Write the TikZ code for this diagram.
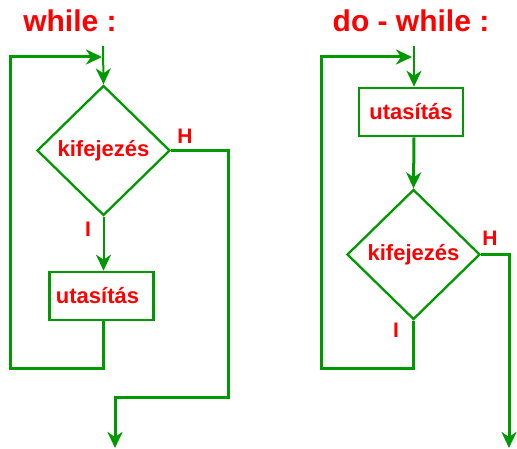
\documentclass[tikz,border=0pt]{standalone}
\usepackage{fontspec}
\setmainfont{Liberation Sans}
\usetikzlibrary{arrows.meta,shapes.geometric}
\definecolor{flowgreen}{RGB}{0,153,0}
\definecolor{flowred}{RGB}{255,0,0}
\tikzset{
  title/.style={text=flowred, font=\fontsize{30}{33}\selectfont\bfseries, anchor=base, inner sep=0},
  label/.style={text=flowred, font=\fontsize{21}{24}\selectfont\bfseries, inner sep=0},
  decision/.style={shape=diamond, draw=flowgreen, line width=2.3pt, minimum width=133pt, minimum height=130pt, inner sep=0, text=flowred, font=\fontsize{22}{25}\selectfont\bfseries},
  stmt/.style={shape=rectangle, draw=flowgreen, line width=2.6pt, minimum width=104pt, minimum height=48pt, inner sep=0, text=flowred, font=\fontsize{22}{25}\selectfont\bfseries},
  tip/.style={-{Stealth[length=16pt,width=15pt,inset=5pt]}},
  heavy/.style={draw=flowgreen, line width=3pt},
  light/.style={draw=flowgreen, line width=2pt},
}
\begin{document}
\begin{tikzpicture}[x=1pt,y=-1pt]
\useasboundingbox (0,0) rectangle (517,449);

% ---- while loop ----
\node[title] (wtitle) at (70,32) {while :};
\coordinate (wtop) at (103,46);
\coordinate (wjoin) at (102,57);
\node[decision] (wd) at (103.5,150.5) {kifejezés};
\node[stmt] (wbox) at (101.5,296) {\hspace*{-8pt}utasítás};
\node[label] (wh) at (185,136) {H};
\node[label] (wi) at (88,229) {I};
\coordinate (wloop) at (10,368);
\coordinate (wturn) at (228,397);
\coordinate (wend) at (115,448);

\draw[light,tip] (wtop) -- (wd.north);
\draw[light,tip] (wd.south) -- (wd.south |- wbox.north);
\draw[heavy,tip,line join=miter] (wd.south |- wbox.south) |- (wloop) |- (wjoin);
\draw[heavy,tip,line join=miter] (wd.east) -| (wturn) -| (wend);

% ---- do-while loop ----
\node[title] (dtitle) at (411,32) {do - while :};
\coordinate (dtop) at (414,46);
\coordinate (djoin) at (412,57);
\node[stmt] (dbox) at (411,112) {utasítás};
\node[decision] (dd) at (413.5,254.5) {kifejezés};
\node[label] (dh) at (490,238) {H};
\node[label] (di) at (396,330) {I};
\coordinate (dloop) at (321,368);
\coordinate (dend) at (509,448);

\draw[light,tip] (dtop) -- (dtop |- dbox.north);
\draw[heavy,tip] (dtop |- dbox.south) -- (dd.north);
\draw[heavy,tip,line join=miter] (dd.south) |- (dloop) |- (djoin);
\draw[heavy,tip,line join=miter] (dd.east) -| (dend);
\end{tikzpicture}
\end{document}
